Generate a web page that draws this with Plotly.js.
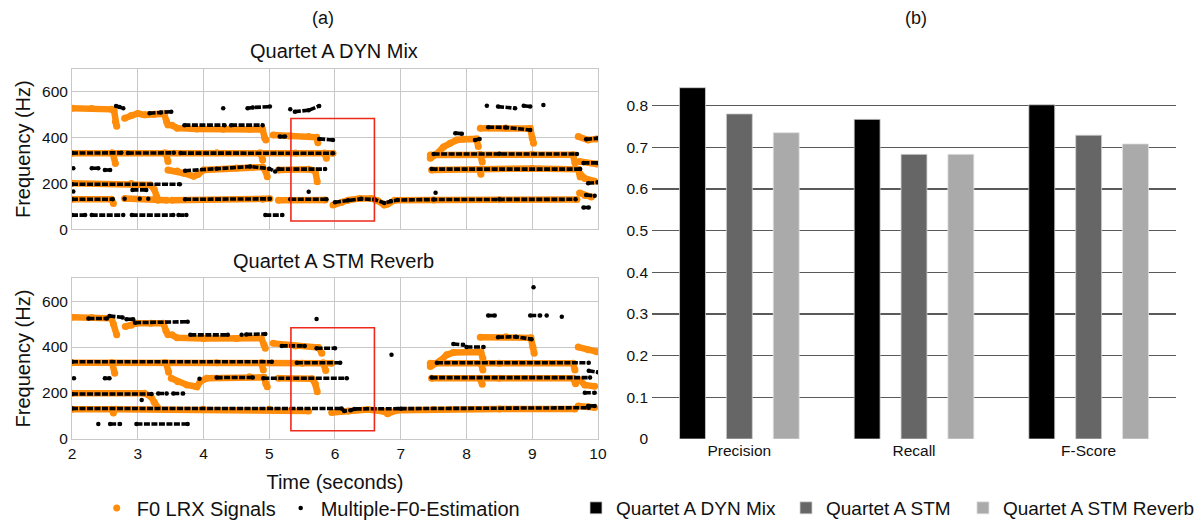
<!DOCTYPE html>
<html>
<head>
<meta charset="utf-8">
<script src="https://cdn.plot.ly/plotly-3.0.1.min.js"></script>
<style>
  html, body { margin: 0; padding: 0; background: #fff; }
  #chart { width: 1194px; height: 523px; }
</style>
</head>
<body>
<div id="chart"></div>
<script>
// ---- Panel (a), top: Quartet A DYN Mix — pitch tracks (seconds, Hz), null ends a track ----
const dynLrxTime = [
  2.0,2.3,2.6,2.64,2.66,2.68,null,
  2.8,2.9,3.0,3.1,3.25,3.4,3.44,3.46,null,
  3.52,3.6,3.9,4.3,4.7,4.9,4.93,4.95,null,
  5.06,5.3,5.6,5.72,5.74,null,
  2.0,2.6,3.4,4.2,4.85,5.4,5.97,null,
  2.62,2.66,null, 3.43,3.46,null, 4.87,4.9,null, 5.84,5.87,null,
  3.46,3.6,3.7,3.85,3.92,4.0,4.5,4.9,4.95,4.97,null,
  5.14,5.6,5.7,5.73,null,
  2.0,2.9,3.19,3.25,3.28,3.31,null,
  2.0,2.6,2.63,null,
  2.8,3.3,3.44,null,
  3.52,4.9,5.01,null,
  5.14,5.85,null,
  5.97,6.1,6.2,6.38,6.55,6.65,6.75,6.8,6.91,7.5,8.5,9.68,null,
  7.45,7.55,7.65,7.75,7.85,7.95,8.15,8.18,null,
  8.21,8.6,8.97,9.0,9.02,null,
  7.45,8.2,9.0,9.62,9.65,null,
  8.21,8.24,null,
  7.47,8.2,8.22,null,
  8.22,9.0,9.7,9.73,null,
  9.7,9.85,9.98,null,
  9.72,9.98,null,
  9.72,9.8,9.95,null,
  9.72,9.8,9.9
];
const dynLrxFreq = [
  529,528,524,518,470,450,null,
  485,497,506,500,503,505,470,456,null,
  455,442,438,437,437,436,400,390,null,
  412,408,405,402,378,null,
  332,333,333,334,333,333,332,null,
  333,288,null, 333,296,null, 333,303,null, 333,310,null,
  259,255,245,232,240,259,268,272,250,230,null,
  259,262,255,208,null,
  201,200,194,175,145,128,null,
  131,131,113,null,
  134,128,127,null,
  127,131,133,null,
  127,128,null,
  106,118,127,135,135,125,106,110,127,128,129,130,null,
  310,330,360,376,390,393,395,362,null,
  441,443,440,400,376,null,
  325,327,328,326,290,null,
  327,294,null,
  259,262,240,null,
  262,266,262,228,null,
  405,390,395,null,
  296,285,null,
  246,222,210,null,
  159,148,141
];
const dynEstTime = [
  2.67,2.72,2.78,null,
  3.18,3.35,3.51,null,
  4.3,null,
  4.67,4.75,5.01,null,
  5.32,null,
  5.39,5.6,5.76,null,
  3.71,4.32,null, 4.42,4.9,null,
  5.16,5.24,null,
  5.76,5.97,null,
  2.0,2.75,null, 2.85,3.55,null, 3.65,5.97,null,
  2.02,null, 2.3,2.4,null, 2.5,2.58,null,
  3.72,4.2,4.71,5.0,5.09,null,
  5.14,5.85,null,
  2.0,3.64,null,
  2.92,3.13,null,
  2.02,null,
  2.0,2.62,null, 2.8,null, 3.03,null, 3.16,null,
  3.72,5.01,null, 5.32,5.87,null,
  5.6,null,
  6.0,6.2,6.4,6.6,6.75,6.85,6.95,7.5,8.5,9.66,null,
  2.0,2.2,null, 2.3,2.78,null, 2.91,3.54,null, 3.62,3.74,null, 4.94,5.2,null,
  8.31,null, 8.48,8.74,null, 8.87,8.97,null, 9.17,null,
  8.33,8.6,8.97,null,
  7.83,7.93,null,
  8.13,8.2,null,
  7.5,8.5,9.68,null,
  7.47,9.73,null,
  7.53,null,
  9.82,10.0,null,
  9.78,10.0,null,
  9.85,10.0,null,
  9.82,9.95,null,
  9.78,9.86
];
const dynEstFreq = [
  539,534,529,null,
  507,510,514,null,
  529,null,
  529,532,536,null,
  524,null,
  514,520,539,null,
  455,455,null, 455,455,null,
  405,405,null,
  395,390,null,
  333,334,null, 333,334,null, 333,332,null,
  267,null, 267,267,null, 259,259,null,
  256,265,274,265,252,null,
  263,263,null,
  197,197,null,
  172,172,null,
  165,null,
  131,131,null, 133,null, 133,null, 133,null,
  131,133,null, 131,131,null,
  164,null,
  118,127,133,130,115,122,128,130,131,131,null,
  62,62,null, 62,62,null, 62,62,null, 62,62,null, 62,62,null,
  540,null, 536,529,null, 540,536,null, 543,null,
  446,445,434,null,
  420,418,null,
  390,395,null,
  329,330,329,null,
  263,263,null,
  160,null,
  393,398,null,
  290,290,null,
  201,205,null,
  150,146,null,
  95,95
];

// ---- Panel (a), bottom: Quartet A STM Reverb ----
const revLrxTime = [
  2.0,2.3,2.6,2.63,2.68,null,
  2.81,2.9,2.98,3.2,3.39,3.43,3.46,null,
  3.52,3.6,4.0,4.5,4.88,4.92,4.94,null,
  5.06,5.4,5.75,5.8,null,
  2.0,2.6,3.4,4.2,4.9,5.5,5.95,null,
  2.61,2.65,null, 3.43,3.47,null, 4.88,4.91,null, 5.82,5.86,null,
  3.51,3.61,3.75,3.9,3.95,4.05,4.7,4.92,4.95,4.97,null,
  5.14,5.65,5.7,5.73,null,
  2.0,3.1,3.2,3.25,3.31,null,
  2.0,2.6,2.63,null,
  2.66,4.0,5.0,5.6,null,
  5.95,6.2,6.5,6.75,6.8,6.95,7.5,8.5,9.65,null,
  7.45,7.6,7.7,7.8,8.22,8.25,null,
  8.21,8.6,8.98,9.01,9.03,null,
  7.45,8.5,9.62,9.65,null,
  8.22,8.25,null,
  7.47,8.5,9.62,9.66,null,
  8.2,8.24,null,
  9.7,9.85,9.98,null,
  9.72,9.8,9.95,null,
  9.7,9.85,9.95
];
const revLrxFreq = [
  530,528,525,500,453,null,
  489,495,503,503,503,470,453,null,
  453,440,437,437,438,410,395,null,
  416,405,398,373,null,
  332,332,332,332,331,330,330,null,
  332,286,null, 332,290,null, 332,300,null, 332,298,null,
  264,249,235,227,250,264,271,268,240,227,null,
  264,262,240,206,null,
  199,199,185,160,134,null,
  129,129,113,null,
  129,129,129,122,null,
  115,122,128,120,110,125,128,130,130,null,
  315,340,366,376,378,350,null,
  443,445,440,400,373,null,
  330,330,330,300,null,
  330,300,null,
  264,264,264,240,null,
  264,238,null,
  400,388,380,null,
  258,235,229,null,
  144,140,137
];
const revEstTime = [
  2.25,2.53,null, 2.57,2.77,null, 2.83,2.93,null, 2.96,3.76,null,
  3.8,4.37,null, 4.58,null, 4.65,4.94,null,
  5.19,5.54,null, 5.72,6.0,null,
  5.72,null, 6.86,null,
  2.0,5.04,null, 5.42,6.08,null,
  2.03,null, 2.5,2.57,null, 3.94,null, 4.2,4.75,null, 4.91,6.18,null,
  2.0,3.21,null, 3.31,3.44,null, 3.54,3.69,null, 3.06,null,
  2.0,6.1,6.14,6.24,6.3,7.0,9.86,null,
  2.4,null, 2.58,2.73,null, 2.98,3.76,null,
  9.02,null, 8.33,8.43,null, 8.97,9.12,null, 9.22,null, 9.45,null,
  8.48,8.75,8.99,null,
  7.8,7.95,null, 8.0,8.26,null,
  7.55,9.86,null,
  7.47,9.88,null,
  9.86,10.0,null,
  9.8,9.95,null,
  9.85,9.95
];
const revEstFreq = [
  524,524,null, 535,529,null, 521,521,null, 506,510,null,
  453,453,null, 453,null, 455,457,null,
  405,405,null, 395,395,null,
  522,null, 366,null,
  336,336,null, 332,332,null,
  264,null, 264,264,null, 262,null, 267,268,null, 264,264,null,
  196,196,null, 198,198,null, 198,198,null, 170,null,
  133,133,122,125,131,132,136,null,
  65,null, 65,65,null, 65,65,null,
  660,null, 537,537,null, 537,537,null, 537,null, 532,null,
  443,445,434,null,
  413,410,null, 400,400,null,
  332,332,null,
  267,267,null,
  297,290,null,
  201,201,null,
  144,144
];

// Highlighted window drawn on both pitch panels
const highlightTime = [5.33, 6.6];
const highlightFreq = [36, 484];

// ---- Panel (b): evaluation scores ----
const metrics = ['Precision', 'Recall', 'F-Score'];
const dynMixScores = [0.843, 0.767, 0.802];
const stmScores = [0.780, 0.683, 0.729];
const stmReverbScores = [0.735, 0.683, 0.708];

const ORANGE = '#ff8c0a';
const FONT = 'Liberation Sans, Arial, sans-serif';

function lrxTrace(x, y, xa, ya) {
  return {
    x: x, y: y, xaxis: xa, yaxis: ya, type: 'scatter', mode: 'lines+markers',
    line: { color: ORANGE, width: 6.5 }, marker: { color: ORANGE, size: 7 },
    connectgaps: false, showlegend: false, hoverinfo: 'skip'
  };
}
function estTrace(x, y, xa, ya) {
  return {
    x: x, y: y, xaxis: xa, yaxis: ya, type: 'scatter', mode: 'lines+markers',
    line: { color: '#000', width: 3.6, dash: '6px,1.5px' }, marker: { color: '#000', size: 4.5 },
    connectgaps: false, showlegend: false, hoverinfo: 'skip'
  };
}

const traces = [
  lrxTrace(dynLrxTime, dynLrxFreq, 'x', 'y'),
  estTrace(dynEstTime, dynEstFreq, 'x', 'y'),
  lrxTrace(revLrxTime, revLrxFreq, 'x2', 'y2'),
  estTrace(revEstTime, revEstFreq, 'x2', 'y2'),
  // legend entries for the pitch panels
  { x: [null], y: [null], xaxis: 'x2', yaxis: 'y2', type: 'scatter', mode: 'markers',
    name: 'F0 LRX Signals', marker: { color: ORANGE, size: 7 }, legend: 'legend' },
  { x: [null], y: [null], xaxis: 'x2', yaxis: 'y2', type: 'scatter', mode: 'markers',
    name: 'Multiple-F0-Estimation', marker: { color: '#000', size: 4.5 }, legend: 'legend' },
  { x: metrics, y: dynMixScores, type: 'bar', name: 'Quartet A DYN Mix', xaxis: 'x3', yaxis: 'y3',
    marker: { color: '#000000', line: { color: '#d0d0d0', width: 0.8 } }, legend: 'legend2' },
  { x: metrics, y: stmScores, type: 'bar', name: 'Quartet A STM', xaxis: 'x3', yaxis: 'y3',
    marker: { color: '#666666', line: { color: '#d0d0d0', width: 0.8 } }, legend: 'legend3' },
  { x: metrics, y: stmReverbScores, type: 'bar', name: 'Quartet A STM Reverb', xaxis: 'x3', yaxis: 'y3',
    marker: { color: '#aaaaaa', line: { color: '#e0e0e0', width: 0.8 } }, legend: 'legend4' }
];

const pitchX = {
  range: [2, 10], dtick: 1, showgrid: true, gridcolor: '#c8c8c8', gridwidth: 1,
  showline: true, linecolor: '#c8c8c8', mirror: true, zeroline: false, ticks: '',
  tickfont: { size: 15.5, color: '#111' }, domain: [0.0603, 0.5008], fixedrange: true
};
const pitchY = {
  range: [0, 700], tickvals: [0, 200, 400, 600], showgrid: true, gridcolor: '#c8c8c8',
  showline: true, linecolor: '#c8c8c8', mirror: true, zeroline: false, ticks: '',
  tickfont: { size: 15.5, color: '#111' },
  title: { text: 'Frequency (Hz)', font: { size: 20, color: '#111' }, standoff: 6 }
};

function box(xa, ya) {
  return {
    type: 'rect', xref: xa, yref: ya,
    x0: highlightTime[0], x1: highlightTime[1], y0: highlightFreq[0], y1: highlightFreq[1],
    line: { color: '#ee2a1a', width: 1.6 }, fillcolor: 'rgba(0,0,0,0)'
  };
}

function label(text, x, y, size) {
  return { text: text, xref: 'paper', yref: 'paper', x: x, y: y, xanchor: 'center',
    yanchor: 'middle', showarrow: false, font: { size: size, color: '#111' } };
}

function legendAt(x, size) {
  return {
    orientation: 'h', x: x, y: 0.0287, xanchor: 'left', yanchor: 'middle',
    font: { size: size, color: '#111' }, bgcolor: 'rgba(0,0,0,0)'
  };
}

const layout = {
  width: 1194, height: 523,
  margin: { l: 0, r: 0, t: 0, b: 0, autoexpand: false },
  paper_bgcolor: '#fff', plot_bgcolor: '#fff',
  font: { family: FONT, color: '#111' },
  xaxis: Object.assign({}, pitchX, { anchor: 'y', showticklabels: false }),
  yaxis: Object.assign({}, pitchY, { domain: [0.5616, 0.8679], anchor: 'x' }),
  xaxis2: Object.assign({}, pitchX, { anchor: 'y2',
    title: { text: 'Time (seconds)', font: { size: 20, color: '#111' }, standoff: 14 } }),
  yaxis2: Object.assign({}, pitchY, { domain: [0.1606, 0.4683], anchor: 'x2' }),
  xaxis3: {
    domain: [0.5461, 0.9849], anchor: 'y3', range: [-0.5, 2.5], showgrid: false,
    showline: false, zeroline: false, ticks: '', tickfont: { size: 15.5, color: '#111' }, fixedrange: true
  },
  yaxis3: {
    domain: [0.1606, 0.8459], anchor: 'x3', range: [0, 0.86], dtick: 0.1, tickformat: '.1~f',
    showgrid: true, gridcolor: '#5a5a5a', gridwidth: 1.3, zeroline: false, showline: false,
    ticks: '', tickfont: { size: 15.5, color: '#111' }, ticklabelstandoff: 3
  },
  barmode: 'group', bargap: 0.195, bargroupgap: 0.447,
  shapes: [box('x', 'y'), box('x2', 'y2')],
  annotations: [
    label('(a)', 0.2705, 0.9656, 18),
    label('(b)', 0.7672, 0.9656, 18),
    label('Quartet A DYN Mix', 0.2797, 0.9025, 20),
    label('Quartet A STM Reverb', 0.2797, 0.5015, 20)
  ],
  legend: legendAt(0.081, 20),
  legend2: legendAt(0.4824, 19),
  legend3: legendAt(0.6583, 19),
  legend4: legendAt(0.8065, 19),
  showlegend: true
};

Plotly.newPlot('chart', traces, layout, { staticPlot: true, displayModeBar: false });
</script>
</body>
</html>
